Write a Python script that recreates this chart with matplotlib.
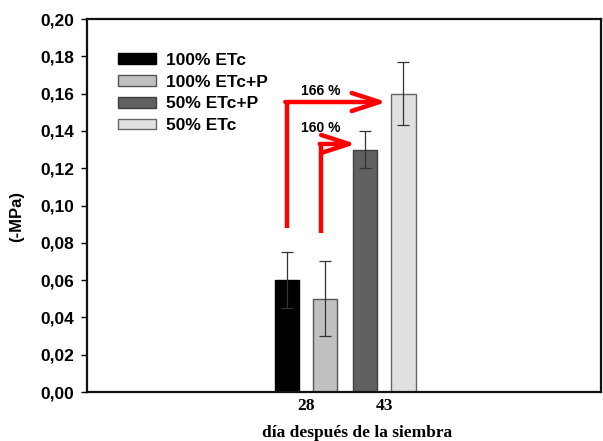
import numpy as np
import matplotlib.pyplot as plt
from matplotlib.ticker import FuncFormatter, MultipleLocator

# Potencial hídrico por tratamiento
days = ['28', '43']
treatments = ['100% ETc', '100% ETc+P', '50% ETc+P', '50% ETc']
day_index = [0, 0, 1, 1]
means = [0.060, 0.050, 0.130, 0.160]
errors = [0.015, 0.020, 0.010, 0.017]
colors = ['#000000', '#c0c0c0', '#606060', '#e0e0e0']
edges = ['#000000', '#555555', '#404040', '#666666']

# flechas: (tratamiento origen, destino, y inicio, y codo, x punta, y texto)
arrows = [(0, 3, 0.088, 0.1555, 2.03, 0.1615),
          (1, 2, 0.085, 0.1330, 1.64, 0.1417)]

sans = ['Liberation Sans', 'DejaVu Sans']
serif = ['Liberation Serif', 'DejaVu Serif']

fig = plt.figure(figsize=(6.03, 4.41), dpi=100)
ax = fig.add_axes([0.1443, 0.1111, 0.8524, 0.8458])

width = 0.31
offset = 0.245
xpos = np.array([1 + d for d in day_index], dtype=float)
xpos += np.array([-offset, offset, -offset, offset])

for i in range(len(treatments)):
    ax.bar(xpos[i], means[i], width, color=colors[i], edgecolor=edges[i],
           linewidth=1, label=treatments[i], zorder=2)
    ax.errorbar(xpos[i], means[i], yerr=errors[i], fmt='none',
                ecolor='#333333', elinewidth=0.9, capsize=4, capthick=0.9,
                zorder=3)

# flechas rojas con el incremento porcentual
for src, dst, y0, y1, xt, ytxt in arrows:
    xs = xpos[src] - (0.0 if src == 0 else 0.05)
    ax.plot([xs, xs], [y0, y1 + 0.001], color='red', lw=3.2,
            solid_capstyle='butt', zorder=4)
    ax.annotate('', xy=(xt, y1), xytext=(xs - 0.02, y1),
                arrowprops=dict(arrowstyle='->,head_length=2.0,head_width=0.65',
                                color='red', lw=3.2, shrinkA=0, shrinkB=0),
                zorder=4)
    pct = int((means[dst] - means[src]) / means[src] * 100)
    ax.text(1.19, ytxt, f'{pct} %', ha='center', va='center',
            fontsize=10, fontweight='bold', family=sans)

ax.set_xlim(-1.8, 4.77)
ax.set_ylim(0, 0.20)
ax.yaxis.set_major_locator(MultipleLocator(0.02))
ax.yaxis.set_major_formatter(FuncFormatter(lambda v, _: f'{v:.2f}'.replace('.', ',')))
ax.set_xticks([1, 2])
ax.set_xticklabels(days, fontsize=12.5, fontweight='bold', family=serif)
ax.tick_params(axis='x', length=0, pad=4)
ax.tick_params(axis='y', length=4, width=1, direction='out', pad=5)
for lab in ax.get_yticklabels():
    lab.set_fontsize(12.5)
    lab.set_fontweight('bold')
    lab.set_family(sans)

for sp in ax.spines.values():
    sp.set_linewidth(1.6)
    sp.set_color('#111111')

ax.set_ylabel('(-MPa)', fontsize=12, fontweight='bold', family=sans)
ax.yaxis.set_label_coords(-0.122, 0.47)
ax.set_xlabel('día después de la siembra', fontsize=12.5, fontweight='bold',
              family=serif)
ax.xaxis.set_label_coords(0.525, -0.088)

leg = ax.legend(loc='upper left', bbox_to_anchor=(0.060, 0.91), frameon=False,
                prop={'family': sans, 'weight': 'bold', 'size': 12.5},
                handlelength=2.2, handleheight=0.55, handletextpad=0.55,
                labelspacing=0.40, borderpad=0, borderaxespad=0)

fig.savefig('out.png', dpi=100)
